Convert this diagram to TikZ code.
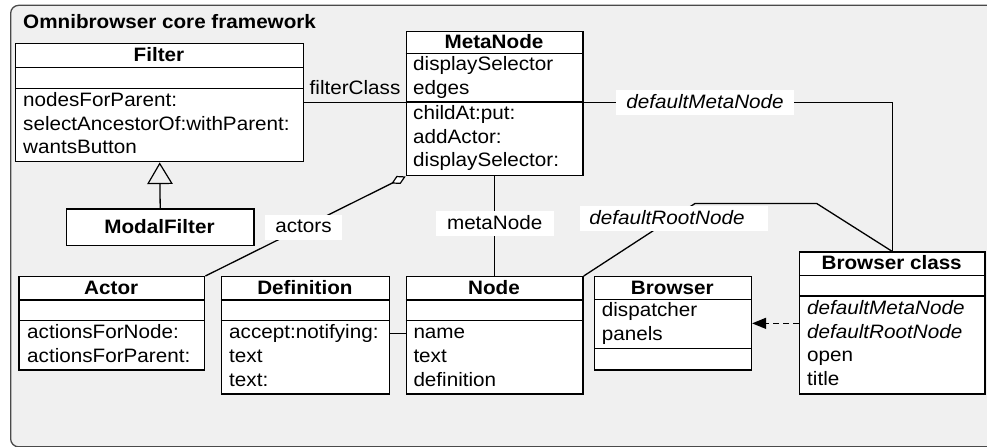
\documentclass[tikz,border=0pt]{standalone}
\usepackage{fontspec}
\setmainfont{Liberation Sans}[FakeStretch=1.065]
\usetikzlibrary{arrows.meta,calc}
\definecolor{pkgfill}{HTML}{F0F0F0}
\definecolor{pkgline}{HTML}{4A4A4A}
\newcommand{\diafont}{\fontsize{19.4bp}{23.7bp}\selectfont}
\begin{document}
\begin{tikzpicture}[x=1bp,y=-1bp,
  every node/.style={font=\diafont},
  cls/.style={draw=black, fill=white, line width=1.4bp, inner sep=0pt, anchor=north west},
  sepl/.style={draw=black, line width=1.4bp},
  hd/.style={anchor=base, font=\diafont\bfseries, inner sep=0pt},
  row/.style={anchor=base west, inner sep=0pt},
  itrow/.style={anchor=base west, inner sep=0pt, font=\diafont\itshape},
  conn/.style={draw=black, line width=1.3bp},
  lbl/.style={fill=white, inner xsep=10bp, inner ysep=3.7bp, text height=14.6bp, text depth=3bp},
]
\useasboundingbox (0,0) rectangle (987,447);
\begin{scope}
  \clip (0,0) rectangle (987,447);
  \node[draw=pkgline, fill=pkgfill, line width=1.3bp, rounded corners=8bp, inner sep=0pt,
        anchor=north west, minimum width=1000bp, minimum height=441.5bp] (pkg) at (10,4.7) {};
\end{scope}
\node[row, font=\diafont\bfseries] (title) at (23,28.3) {Omnibrowser core framework};

% Filter
\node[cls, minimum width=288bp, minimum height=118bp] (filter) at (15,43) {};
\draw[sepl] (filter.west |- 0,67.5) -- (filter.east |- 0,67.5);
\draw[sepl] (filter.west |- 0,88.5) -- (filter.east |- 0,88.5);
\node[hd] (filterH) at (159,61.5) {Filter};
\node[row] (filterM1) at (23,106.5) {nodesForParent:};
\node[row] (filterM2) at (23,130.2) {selectAncestorOf:withParent:};
\node[row] (filterM3) at (23,153.9) {wantsButton};

% ModalFilter
\node[cls, minimum width=187.6bp, minimum height=36.7bp] (modal) at (65.7,208.3) {};
\node[hd] (modalH) at (159.5,233.5) {ModalFilter};

% MetaNode
\node[cls, minimum width=176.6bp, minimum height=144bp] (metanode) at (405.7,31) {};
\draw[sepl] (metanode.west |- 0,53.3) -- (metanode.east |- 0,53.3);
\draw[sepl] (metanode.west |- 0,102) -- (metanode.east |- 0,102);
\node[hd] (metanodeH) at (494,48.5) {MetaNode};
\node[row] (metanodeA1) at (413,70.5) {displaySelector};
\node[row] (metanodeA2) at (413,94.2) {edges};
\node[row] (metanodeM1) at (413,119.5) {childAt:put:};
\node[row] (metanodeM2) at (413,143.2) {addActor:};
\node[row] (metanodeM3) at (413,166.9) {displaySelector:};

% Actor
\node[cls, minimum width=185.7bp, minimum height=93.3bp] (actor) at (18.3,276) {};
\draw[sepl] (actor.west |- 0,300) -- (actor.east |- 0,300);
\draw[sepl] (actor.west |- 0,320.7) -- (actor.east |- 0,320.7);
\node[hd] (actorH) at (111.2,294.3) {Actor};
\node[row] (actorM1) at (27,338.7) {actionsForNode:};
\node[row] (actorM2) at (27,362.4) {actionsForParent:};

% Definition
\node[cls, minimum width=168.3bp, minimum height=117.3bp] (definition) at (220.7,276) {};
\draw[sepl] (definition.west |- 0,300) -- (definition.east |- 0,300);
\draw[sepl] (definition.west |- 0,320.7) -- (definition.east |- 0,320.7);
\node[hd] (definitionH) at (304.9,294.3) {Definition};
\node[row] (definitionM1) at (229,338.7) {accept:notifying:};
\node[row] (definitionM2) at (229,362.4) {text};
\node[row] (definitionM3) at (229,386.1) {text:};

% Node
\node[cls, minimum width=176.6bp, minimum height=117.3bp] (node) at (405.7,276) {};
\draw[sepl] (node.west |- 0,300) -- (node.east |- 0,300);
\draw[sepl] (node.west |- 0,320.7) -- (node.east |- 0,320.7);
\node[hd] (nodeH) at (494,294.3) {Node};
\node[row] (nodeM1) at (413.3,338.7) {name};
\node[row] (nodeM2) at (413.3,362.4) {text};
\node[row] (nodeM3) at (413.3,386.1) {definition};

% Browser
\node[cls, minimum width=156.7bp, minimum height=93.3bp] (browser) at (594,276) {};
\draw[sepl] (browser.west |- 0,299.5) -- (browser.east |- 0,299.5);
\draw[sepl] (browser.west |- 0,348.5) -- (browser.east |- 0,348.5);
\node[hd] (browserH) at (672.3,294.3) {Browser};
\node[row] (browserA1) at (601.7,317) {dispatcher};
\node[row] (browserA2) at (601.7,340.7) {panels};

% Browser class
\node[cls, minimum width=185.3bp, minimum height=141.8bp] (bclass) at (799,251.5) {};
\draw[sepl] (bclass.west |- 0,275.5) -- (bclass.east |- 0,275.5);
\draw[sepl] (bclass.west |- 0,296) -- (bclass.east |- 0,296);
\node[hd] (bclassH) at (891.7,269.8) {Browser class};
\node[itrow] (bclassM1) at (807,314.5) {defaultMetaNode};
\node[itrow] (bclassM2) at (807,338.2) {defaultRootNode};
\node[row] (bclassM3) at (807,361.9) {open};
\node[row] (bclassM4) at (807,385.6) {title};

% connectors
\draw[conn] (filter.east) -- node[anchor=base, inner sep=0pt, yshift=7.7bp] (lblFC) {filterClass} (filter.east -| metanode.west);
\draw[conn] (metanode.east |- filter.east) -| node[lbl, pos=0.197, text width=158bp, align=left, font=\diafont\itshape] (lblDMN) {defaultMetaNode} (bclass.north);
\coordinate (rb1) at (695,203.5);
\coordinate (rb2) at (816.7,203.5);
\draw[conn] (node.north east) -- (rb1) -- (rb2) -- (bclass.north);
\node[lbl, text width=168.7bp, align=left, inner xsep=9.5bp, font=\diafont\itshape] (lblDRN) at (673.8,218.3) {defaultRootNode};
\draw[conn] (metanode.south) -- node[lbl, pos=0.47, inner xsep=11.3bp] (lblMN) {metaNode} (node.north);
\draw[conn, -{Diamond[fill=white, length=16bp, width=9bp, line width=1.2bp]}] (actor.north east) -- node[lbl, pos=0.49, inner xsep=10.6bp] (lblAct) {actors} (metanode.south west);
\draw[conn, -{Triangle[open, length=21.7bp, width=25.6bp, line width=1.2bp]}] (modal.north) -- (filter.south);
\draw[conn] (definition.east |- nodeM1) -- (node.west |- nodeM1);
\draw[conn, dash pattern=on 6bp off 4bp, -{Triangle[length=14bp, width=11bp]}] (bclass.west |- browser.east) -- (browser.east);
\end{tikzpicture}
\end{document}
